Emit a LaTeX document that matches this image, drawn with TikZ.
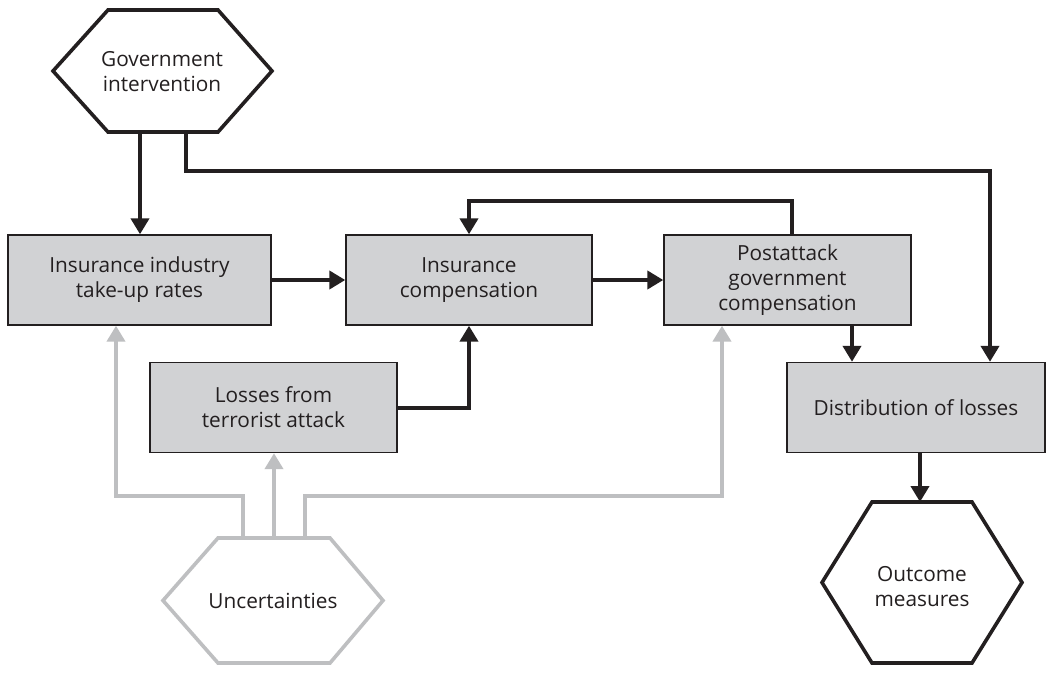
\documentclass[tikz,border=0pt]{standalone}
\usepackage{fontspec}
\setmainfont{Open Sans}
\usetikzlibrary{arrows.meta}
\definecolor{boxfill}{RGB}{209,210,212}
\definecolor{unc}{RGB}{190,191,193}
\definecolor{ink}{RGB}{35,31,32}
\begin{document}
\begin{tikzpicture}[x=1pt,y=-1pt,
  font=\fontsize{20.8}{25}\selectfont,
  box/.style={draw=ink, line width=1.4pt, fill=boxfill, inner sep=0pt, align=center, text=ink},
  lbl/.style={align=center, inner sep=0pt, text=ink},
  hexblk/.style={draw=ink, line width=3.6pt, line join=miter},
  hexgry/.style={draw=unc, line width=3.6pt, line join=miter},
  blk/.style={draw=ink, line width=4pt, -{Triangle[length=16pt,width=18pt]}},
  gry/.style={draw=unc, line width=4pt, -{Triangle[length=16pt,width=18pt]}}]
\useasboundingbox (0,0) rectangle (1050,674);
\fill[white] (0,0) rectangle (1050,674);

% boxes
\node[box, minimum width=263pt, minimum height=90pt] (b1) at (139.5,280) {Insurance industry\\take-up rates};
\node[box, minimum width=246pt, minimum height=90pt] (b2) at (469,280) {Insurance\\compensation};
\node[box, minimum width=247pt, minimum height=90pt] (b3) at (787.5,280) {Postattack\\government\\compensation};
\node[box, minimum width=247pt, minimum height=90pt] (b4) at (273.5,407.5) {Losses from\\terrorist attack};
\node[box, minimum width=258pt, minimum height=90pt] (b5) at (916,407.5) {Distribution of losses};

% hexagons
\draw[hexblk] (108,10) -- (218,10) -- (272,71) -- (218,132) -- (108,132) -- (53,71) -- cycle;
\node[lbl] (gov) at (162,72) {Government\\intervention};
\draw[hexblk] (872,502) -- (972,502) -- (1022,582.5) -- (972,663) -- (872,663) -- (822,582.5) -- cycle;
\node[lbl] (om) at (922,587) {Outcome\\measures};
\draw[hexgry] (218,538) -- (330,538) -- (383,600.5) -- (330,663) -- (218,663) -- (163,600.5) -- cycle;
\node[lbl] (unc) at (273,601) {Uncertainties};

% coordinates
\coordinate (g1) at (140,132);
\coordinate (g2) at (186,132);
\coordinate (gr) at (990,171);
\coordinate (fb) at (792,201);
\coordinate (c35) at (852,0);
\coordinate (omt) at (920,502);
\coordinate (u1) at (243,538);
\coordinate (u2) at (274,538);
\coordinate (u3) at (305,538);
\coordinate (ul) at (116,496);
\coordinate (ur) at (722,496);

% black connectors
\draw[blk] (g1) -- (g1 |- b1.north);
\draw[blk] (g2) |- (gr) -- (gr |- b5.north);
\draw[blk] (b1.east) -- (b2.west);
\draw[blk] (b2.east) -- (b3.west);
\draw[blk] (b3.north -| fb) -- (fb) -| (b2.north);
\draw[blk] (b4.east) -| (b2.south);
\draw[blk] (b3.south -| c35) -- (b5.north -| c35);
\draw[blk] (b5.south -| omt) -- (omt);

% gray connectors
\draw[gry] (u1) |- (ul) -- (ul |- b1.south);
\draw[gry] (u2) -- (u2 |- b4.south);
\draw[gry] (u3) |- (ur) -- (ur |- b3.south);
\end{tikzpicture}
\end{document}
